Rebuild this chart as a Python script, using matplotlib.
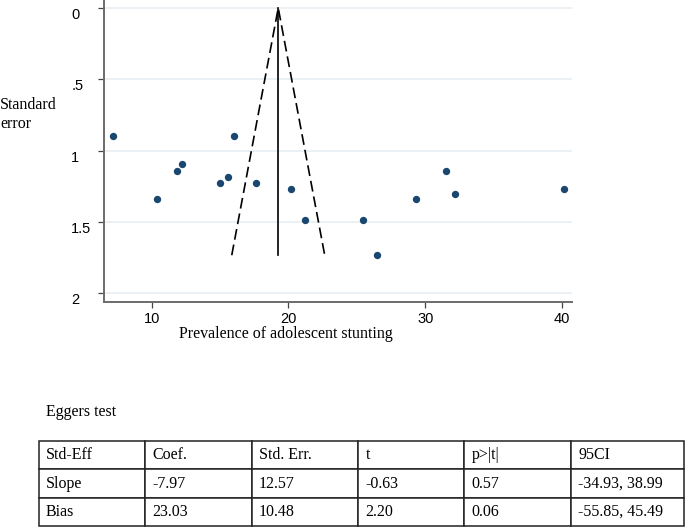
import matplotlib
matplotlib.use("Agg")
import matplotlib.pyplot as plt

# ---- data ----
prevalence = [7.17, 10.37, 11.87, 12.19, 14.97, 15.58, 15.99, 17.60, 20.18, 21.18,
              25.47, 26.49, 29.30, 31.49, 32.19, 40.12]
std_error = [0.895, 1.342, 1.143, 1.096, 1.225, 1.183, 0.895, 1.225, 1.267, 1.484,
             1.484, 1.734, 1.342, 1.143, 1.307, 1.267]
pooled = 19.25
se_max = 1.734
z95 = 1.96

x_ticks = [10, 20, 30, 40]
y_ticks = [0, 0.5, 1, 1.5, 2]
y_tick_labels = ["0", ".5", "1", "1.5", "2"]

table_title = "Eggers test"
col_labels = ["Std-Eff", "Coef.", "Std. Err.", "t", "p>|t|", "95CI"]
row_slope = ["Slope", "-7.97", "12.57", "-0.63", "0.57", "-34.93, 38.99"]
row_bias = ["Bias", "23.03", "10.48", "2.20", "0.06", "-55.85, 45.49"]

# ---- figure ----
W, H = 685, 527
fig = plt.figure(figsize=(W / 100, H / 100), dpi=100)
serif = "Liberation Serif"
sans = "Liberation Sans"

ax_l, ax_r, ax_b, ax_t = 104, 572, 302, 0
ax = fig.add_axes([ax_l / W, 1 - ax_b / H, (ax_r - ax_l) / W, (ax_b - ax_t) / H])
ax.set_xlim(6.51, 40.73)
ax.set_ylim(2.062, -0.056)

for y in y_ticks:
    ax.axhline(y, color="#e6eef1", lw=1.2, zorder=0)

# funnel
ax.plot([pooled, pooled], [0, se_max], color="black", lw=1.2, zorder=2)
ax.plot([pooled - z95 * se_max, pooled, pooled + z95 * se_max], [se_max, 0, se_max],
        color="black", lw=1.2, ls=(0, (6.5, 3)), zorder=2)

ax.scatter(prevalence, std_error, s=28, color="#1a476f", zorder=3, linewidths=0)

for side in ["top", "right"]:
    ax.spines[side].set_visible(False)
for side in ["left", "bottom"]:
    ax.spines[side].set_color("#6b6b6b")
    ax.spines[side].set_linewidth(1.4)

ax.set_xticks(x_ticks)
ax.set_xticklabels([str(t) for t in x_ticks], fontfamily=sans, fontsize=10.5)
ax.set_yticks(y_ticks)
ax.set_yticklabels(y_tick_labels, fontfamily=sans, fontsize=10.5)
ax.tick_params(axis="both", direction="out", length=4.5, width=0.9, color="#444444")
ax.tick_params(axis="x", pad=3)
ax.tick_params(axis="y", pad=19)
for lab in ax.get_yticklabels():
    lab.set_horizontalalignment("left")
    lab.set_verticalalignment("top")

ax.set_xlabel("Prevalence of adolescent stunting", fontfamily=serif, fontsize=11.5,
              va="center")
ax.xaxis.set_label_coords((286 - ax_l) / (ax_r - ax_l), -(334 - ax_b) / (ax_b - ax_t))
ax.set_ylabel("Standard\nerror", fontfamily=serif, fontsize=11.5, rotation=0,
              ha="left", va="center", multialignment="left", linespacing=1.25)
ax.yaxis.set_label_coords(-(ax_l - 0) / (ax_r - ax_l), (ax_b - 115) / (ax_b - ax_t))

# ---- table ----
fig.text(46 / W, 1 - 412 / H, table_title, fontfamily=serif, fontsize=11.5,
         ha="left", va="center")

tax = fig.add_axes([0, 0, 1, 1])
tax.axis("off")
col_x = [38.7, 145, 251.7, 358.3, 464.3, 571, 684]
row_y = [441, 469, 497.7, 526]
widths = [(col_x[i + 1] - col_x[i]) / (col_x[-1] - col_x[0]) for i in range(len(col_x) - 1)]
bbox = [col_x[0] / W, 1 - row_y[-1] / H, (col_x[-1] - col_x[0]) / W,
        (row_y[-1] - row_y[0]) / H]
tbl = tax.table(cellText=[row_slope, row_bias], colLabels=col_labels, cellLoc="left",
                colLoc="left", colWidths=widths, bbox=bbox)
tbl.auto_set_font_size(False)
for (r, c), cell in tbl.get_celld().items():
    cell.set_edgecolor("#222222")
    cell.set_linewidth(1.1)
    cell.PAD = 7.3 / (col_x[c + 1] - col_x[c])
    cell.get_text().set_fontfamily(serif)
    cell.get_text().set_fontsize(11.5)

fig.savefig("out.png", dpi=100)
